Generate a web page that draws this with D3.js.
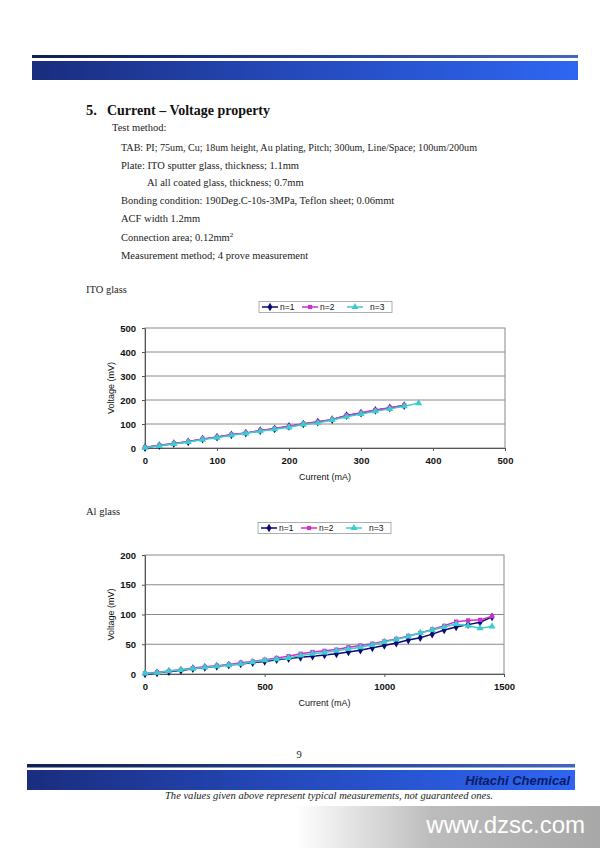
<!DOCTYPE html>
<html><head><meta charset="utf-8">
<script src="https://cdn.jsdelivr.net/npm/d3@7/dist/d3.min.js"></script>
<style>html,body{margin:0;padding:0;background:#fff;}svg{display:block;}</style>
</head><body>
<script>
// ---------- data ----------
const seriesNames = ["n=1", "n=2", "n=3"];
const itoX12 = [0,20,40,60,80,100,120,140,160,180,200,220,240,260,280,300,320,340,360];
const itoX3  = [0,20,40,60,80,100,120,140,160,180,200,220,240,260,280,300,320,340,360,380];
const itoN1 = [2,10,18,26,37,45,55,62,72,80,90,100,108,118,135,145,157,167,177];
const itoN2 = [3,11,19,27,38,46,56,63,73,81,92,101,109,119,136,147,158,168,178];
const itoN3 = [1,9,17,25,35,43,53,61,70,78,86,98,104,117,130,142,153,163,174,187];
const alX  = [0,50,100,150,200,250,300,350,400,450,500,550,600,650,700,750,800,850,900,950,1000,1050,1100,1150,1200,1250,1300,1350,1400,1450];
const alN1 = [0,2,4,6,9,11,13,15,17,19,21,24,26,28,30,32,34,37,40,44,48,52,57,61,67,74,79,83,87,96];
const alN2 = [1,3,5,7,10,12,14,16,19,21,24,27,30,34,37,39,41,45,48,51,55,59,64,69,75,81,88,90,91,97];
const alN3 = [1,2,5,7,9,11,13,15,17,20,23,25,27,31,34,36,39,42,45,49,54,58,63,69,74,79,84,81,77,80];
const itoXTicks = [0,100,200,300,400,500];
const itoYTicks = [0,100,200,300,400,500];
const alXTicks = [0,500,1000,1500];
const alYTicks = [0,50,100,150,200];

const colors = ["#0a0a78", "#cc33cc", "#3ccccc"];
const shapes = [d3.symbolDiamond, d3.symbolSquare, d3.symbolTriangle];
const symSizes = [22, 18, 22];

const W = 600, H = 848;
const svg = d3.select("body").append("svg").attr("width", W).attr("height", H);
const defs = svg.append("defs");

function grad(id, stops) {
  const g = defs.append("linearGradient").attr("id", id).attr("x1", "0%").attr("x2", "100%").attr("y1", "0%").attr("y2", "0%");
  stops.forEach(s => g.append("stop").attr("offset", s[0]).attr("stop-color", s[1]));
}
grad("thin", [["0%", "#102050"], ["50%", "#22408e"], ["100%", "#4466c0"]]);
grad("thick", [["0%", "#1a2d7e"], ["45%", "#2448b8"], ["100%", "#2e66f2"]]);
grad("wm", [["0%", "#ffffff"], ["45%", "#bcbcbc"], ["100%", "#a8a8a8"]]);

// header
svg.append("rect").attr("x", 32).attr("y", 55).attr("width", 546).attr("height", 3).attr("fill", "url(#thin)");
svg.append("rect").attr("x", 32).attr("y", 61).attr("width", 546).attr("height", 19).attr("fill", "url(#thick)");

// text block
const serif = "'Liberation Serif','DejaVu Serif',serif";
svg.append("text").attr("x", 86).attr("y", 115).attr("font-family", serif).attr("font-weight", "bold").attr("font-size", 14.5).attr("fill", "#111").text("5.");
svg.append("text").attr("x", 107).attr("y", 115).attr("font-family", serif).attr("font-weight", "bold").attr("font-size", 14.5).attr("fill", "#111")
  .attr("textLength", 163).attr("lengthAdjust", "spacingAndGlyphs").text("Current – Voltage property");
const lines = [
  [112, 131, "Test method:"],
  [121, 151, "TAB: PI; 75um, Cu; 18um height, Au plating, Pitch; 300um, Line/Space; 100um/200um"],
  [121, 169, "Plate: ITO sputter glass, thickness; 1.1mm"],
  [147, 186, "Al all coated glass, thickness; 0.7mm"],
  [121, 204, "Bonding condition: 190Deg.C-10s-3MPa, Teflon sheet; 0.06mmt"],
  [121, 222, "ACF width 1.2mm"],
  [121, 241, "Connection area; 0.12mm"],
  [121, 259, "Measurement method; 4 prove measurement"]
];
lines.forEach((l, i) => {
  const t = svg.append("text").attr("x", l[0]).attr("y", l[1]).attr("font-family", serif).attr("font-size", 10.5).attr("fill", "#222").text(l[2]);
  if (i === 1) t.attr("textLength", 356).attr("lengthAdjust", "spacingAndGlyphs");
  if (i === 6) t.append("tspan").attr("dy", -4).attr("font-size", 7).text("2");
});

svg.append("text").attr("x", 86).attr("y", 293).attr("font-family", serif).attr("font-size", 10.5).attr("fill", "#222").text("ITO glass");
svg.append("text").attr("x", 86).attr("y", 515).attr("font-family", serif).attr("font-size", 10.5).attr("fill", "#222").text("Al glass");

const sans = "'Liberation Sans',Arial,sans-serif";

function legend(x, y) {
  const g = svg.append("g").attr("transform", `translate(${x},${y})`);
  g.append("rect").attr("width", 133).attr("height", 11).attr("fill", "#fff").attr("stroke", "#9a9a9a").attr("stroke-width", 0.8);
  const lx = [3, 43, 88];
  const tx = [21, 61, 111];
  seriesNames.forEach((n, i) => {
    g.append("line").attr("x1", lx[i]).attr("x2", lx[i] + 16).attr("y1", 5.5).attr("y2", 5.5).attr("stroke", colors[i]).attr("stroke-width", 1.5);
    g.append("path").attr("d", d3.symbol().type(shapes[i]).size(symSizes[i])()).attr("transform", `translate(${lx[i] + 8},5.5)`).attr("fill", colors[i]);
    g.append("text").attr("x", tx[i]).attr("y", 8.5).attr("font-family", sans).attr("font-size", 8.5).attr("fill", "#111").text(n);
  });
}

function chart(opt) {
  const x = d3.scaleLinear().domain(opt.xd).range([opt.l, opt.r]);
  const y = d3.scaleLinear().domain(opt.yd).range([opt.b, opt.t]);
  const g = svg.append("g");
  g.selectAll("line.grid").data(opt.yTicks.filter(v => v !== opt.yd[0] && v !== opt.yd[1])).enter().append("line")
    .attr("x1", opt.l).attr("x2", opt.r).attr("y1", d => y(d)).attr("y2", d => y(d)).attr("stroke", "#8a8a8a").attr("stroke-width", 1);
  g.append("rect").attr("x", opt.l).attr("y", opt.t).attr("width", opt.r - opt.l).attr("height", opt.b - opt.t)
    .attr("fill", "none").attr("stroke", "#8a8a8a").attr("stroke-width", 1);
  const fmt = d3.format("d");
  const xa = g.append("g").attr("transform", `translate(0,${opt.b})`)
    .call(d3.axisBottom(x).tickValues(opt.xTicks).tickFormat(fmt).tickSize(3).tickSizeOuter(0).tickPadding(6));
  const ya = g.append("g").attr("transform", `translate(${opt.l},0)`)
    .call(d3.axisLeft(y).tickValues(opt.yTicks).tickFormat(fmt).tickSize(3).tickSizeOuter(0).tickPadding(6));
  [xa, ya].forEach(a => {
    a.select(".domain").attr("stroke", "#555");
    a.selectAll(".tick line").attr("stroke", "#555");
    a.selectAll(".tick text").attr("font-family", sans).attr("font-size", 9.5).attr("font-weight", "bold").attr("fill", "#111");
  });
  g.append("text").attr("x", (opt.l + opt.r) / 2).attr("y", opt.b + 32).attr("text-anchor", "middle")
    .attr("font-family", sans).attr("font-size", 9).attr("fill", "#111").text("Current (mA)");
  g.append("text").attr("transform", `translate(${opt.l - 31},${(opt.t + opt.b) / 2}) rotate(-90)`).attr("text-anchor", "middle")
    .attr("font-family", sans).attr("font-size", 9).attr("fill", "#111").text("Voltage (mV)");
  const line = d3.line().x(d => x(d[0])).y(d => y(d[1]));
  opt.series.forEach((s, i) => {
    const pts = s.x.map((v, k) => [v, s.y[k]]);
    g.append("path").datum(pts).attr("d", line).attr("fill", "none").attr("stroke", colors[i]).attr("stroke-width", 1.5);
    g.selectAll(null).data(pts).enter().append("path")
      .attr("d", d3.symbol().type(shapes[i]).size(symSizes[i])())
      .attr("transform", d => `translate(${x(d[0])},${y(d[1])})`).attr("fill", colors[i]);
  });
}

legend(259, 301.5);
chart({ l: 145, r: 505, t: 328, b: 448, xd: [0, 500], yd: [0, 500], xTicks: itoXTicks, yTicks: itoYTicks,
  series: [{ x: itoX12, y: itoN1 }, { x: itoX12, y: itoN2 }, { x: itoX3, y: itoN3 }] });

legend(258, 522.5);
chart({ l: 145, r: 504, t: 555, b: 674, xd: [0, 1500], yd: [0, 200], xTicks: alXTicks, yTicks: alYTicks,
  series: [{ x: alX, y: alN1 }, { x: alX, y: alN2 }, { x: alX, y: alN3 }] });

// footer
svg.append("text").attr("x", 299).attr("y", 758).attr("text-anchor", "middle").attr("font-family", serif).attr("font-size", 10.5).attr("fill", "#222").text("9");
svg.append("rect").attr("x", 27).attr("y", 764).attr("width", 548).attr("height", 3.5).attr("fill", "url(#thin)");
svg.append("rect").attr("x", 27).attr("y", 770).attr("width", 548).attr("height", 20).attr("fill", "url(#thick)");
svg.append("text").attr("x", 570).attr("y", 785).attr("text-anchor", "end").attr("font-family", sans).attr("font-style", "italic").attr("font-weight", "bold")
  .attr("font-size", 13).attr("fill", "#0a1a66").text("Hitachi Chemical");
svg.append("text").attr("x", 329).attr("y", 799).attr("text-anchor", "middle").attr("font-family", serif).attr("font-style", "italic")
  .attr("font-size", 10).attr("fill", "#222").attr("textLength", 328).attr("lengthAdjust", "spacingAndGlyphs")
  .text("The values given above represent typical measurements, not guaranteed ones.");

// watermark
svg.append("rect").attr("x", 295).attr("y", 806).attr("width", 305).attr("height", 42).attr("fill", "url(#wm)");
svg.append("text").attr("x", 585).attr("y", 833).attr("text-anchor", "end").attr("font-family", sans).attr("font-size", 24).attr("fill", "#ffffff").text("www.dzsc.com");
</script>
</body></html>
